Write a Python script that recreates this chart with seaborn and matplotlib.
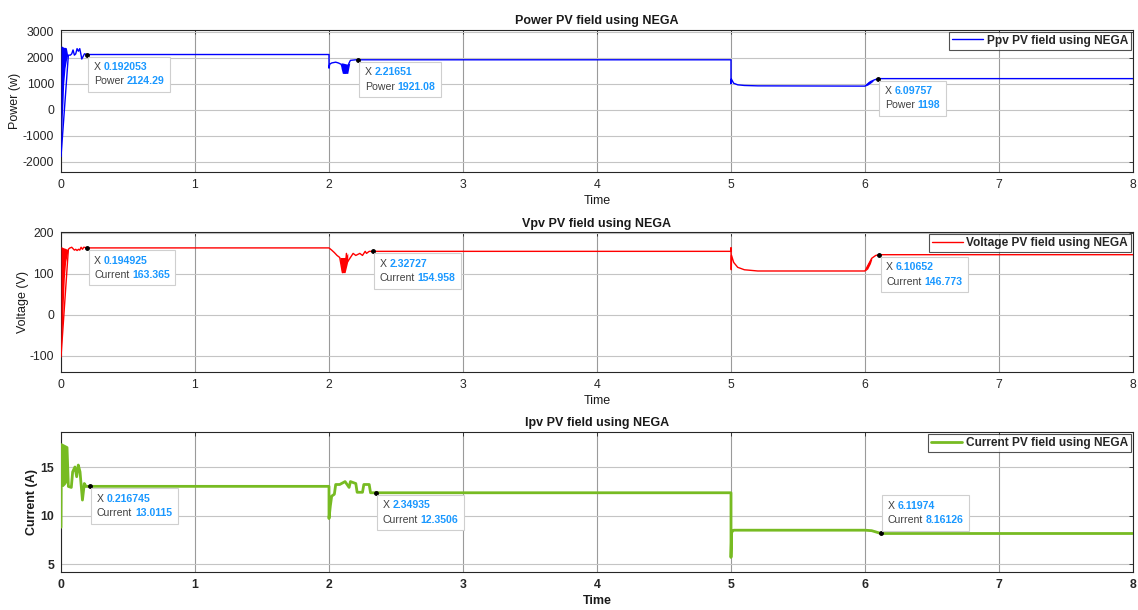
import numpy as np
import pandas as pd
import seaborn as sns
import matplotlib
matplotlib.use("Agg")
import matplotlib.pyplot as plt
from matplotlib.offsetbox import TextArea, HPacker, VPacker, AnnotationBbox

# ====================== DATA ==============

# PV power (W)
p_time = [0, 0.055, 0.07, 0.08, 0.09, 0.095, 0.1, 0.11, 0.12, 0.13, 0.14, 0.15, 0.155,
          0.165, 0.175, 0.192, 2.0, 2.0, 2.005, 2.02, 2.05, 2.07, 2.09, 2.12, 2.15, 2.16,
          2.2, 2.217, 5.0, 5.0, 5.003, 5.02, 5.05, 5.1, 5.2, 6.0, 6.04, 6.07, 6.098, 8.0]
p_val = [-1800, 2100, 2100, 2150, 2300, 2200, 2100, 2150, 2350, 2250, 2350, 2100, 1950,
         2050, 2150, 2124, 2124, 1600, 1750, 1800, 1830, 1800, 1750, 1400, 1800, 1900,
         1921, 1921, 1921, 1000, 1180, 1020, 960, 935, 920, 910, 1080, 1150, 1198, 1198]
# dense switching ripple, drawn as filled envelopes (one entry per burst)
p_bands = [
    ([0, 0.005, 0.01, 0.015, 0.02, 0.03, 0.04, 0.05],
     [-1800, -900, -200, 300, 1000, 1600, 1900, 2100],
     [2450, 2450, 2430, 2420, 2400, 2400, 2380, 2100]),
    ([2.09, 2.1, 2.14, 2.155],
     [1600, 1400, 1400, 1800],
     [1800, 1800, 1750, 1800]),
    ([6.0, 6.02, 6.04, 6.06],
     [910, 950, 1020, 1100],
     [910, 1060, 1110, 1140]),
]
p_tips = [(0.192053, 2124.29), (2.21651, 1921.08), (6.09757, 1198)]

# PV voltage (V)
v_time = [0, 0.055, 0.065, 0.08, 0.1, 0.11, 0.12, 0.13, 0.14, 0.15, 0.16, 0.17, 0.195,
          2.0, 2.02, 2.04, 2.06, 2.08, 2.1, 2.12, 2.13, 2.14, 2.16, 2.18, 2.2, 2.23,
          2.25, 2.27, 2.28, 2.3, 2.327, 5.0, 5.0, 5.002, 5.004, 5.02, 5.05, 5.1, 5.2,
          6.0, 6.05, 6.08, 6.107, 8.0]
v_val = [-103, 160, 163, 165, 158, 160, 157, 160, 158, 165, 160, 165, 163.4,
         163.4, 158, 152, 145, 140, 103, 110, 150, 130, 140, 150, 145, 150,
         145, 155, 150, 155, 155, 155, 164, 110, 145, 128, 116, 110, 107,
         107, 138, 145, 146.8, 146.8]
v_bands = [
    ([0, 0.005, 0.01, 0.017, 0.025, 0.035, 0.045, 0.055],
     [-103, -60, -30, 30, 90, 130, 145, 160],
     [167, 166, 165, 164, 163, 162, 160, 160]),
    ([2.08, 2.095, 2.12, 2.14],
     [140, 103, 103, 130],
     [140, 140, 140, 150]),
    ([6.0, 6.02, 6.04, 6.05],
     [107, 112, 125, 135],
     [107, 125, 135, 138]),
]
v_tips = [(0.194925, 163.365), (2.32727, 154.958), (6.10652, 146.773)]

# PV current (A)
i_time = [0, 0.003, 0.045, 0.055, 0.077, 0.087, 0.104, 0.117, 0.129, 0.142, 0.16, 0.174,
          0.187, 0.217, 2.0, 2.0, 2.01, 2.02, 2.04, 2.05, 2.08, 2.12, 2.15, 2.16, 2.2,
          2.21, 2.25, 2.26, 2.3, 2.31, 2.349, 5.0, 5.0, 5.005, 5.02, 6.0, 6.05, 6.12, 8.0]
i_val = [8.8, 17.3, 17.0, 13.0, 12.9, 14.5, 15.0, 14.0, 15.2, 14.5, 11.6, 13.3,
         13.0, 13.01, 13.01, 9.7, 11.0, 12.0, 12.2, 13.2, 13.2, 13.5, 12.9, 13.5, 13.3,
         12.4, 12.4, 13.2, 13.2, 12.35, 12.35, 12.35, 5.7, 8.3, 8.5, 8.5, 8.45, 8.16, 8.16]
i_bands = [
    ([0.003, 0.015, 0.03, 0.045],
     [13.0, 13.0, 13.2, 13.5],
     [17.3, 17.2, 17.1, 17.0]),
]
i_tips = [(0.216745, 13.0115), (2.34935, 12.3506), (6.11974, 8.16126)]

# ====================== STYLE ==============

sns.set_theme(style="white")
plt.rcParams["font.family"] = ["Liberation Sans", "DejaVu Sans"]
plt.rcParams["axes.edgecolor"] = "#262626"
plt.rcParams["axes.linewidth"] = 0.8
plt.rcParams["axes.unicode_minus"] = False

tip_label = "#404040"
tip_value = "#1a98ff"

fig = plt.figure(figsize=(11.38, 6.10), dpi=100)
ax1 = fig.add_axes([0.0536, 0.718, 0.942, 0.233])
ax2 = fig.add_axes([0.0536, 0.390, 0.942, 0.2295])
ax3 = fig.add_axes([0.0536, 0.0623, 0.942, 0.2295])


def datatip(ax, x, y, name, above=False):
    ax.plot([x], [y], "o", ms=2.5, color="black", zorder=6)
    rows = []
    for lab, val in (("X", f"{x:g}"), (name, f"{y:g}")):
        rows.append(HPacker(children=[
            TextArea(lab, textprops=dict(color=tip_label, fontsize=7.6)),
            TextArea(val, textprops=dict(color=tip_value, fontsize=7.6, fontweight="bold")),
        ], align="baseline", pad=0, sep=2))
    box = VPacker(children=rows, align="left", pad=0, sep=3)
    # frame pad is 0.4 * 10pt = 4pt outside the text block
    if above:
        xybox, align = (5, 6), (0, 0)
    else:
        xybox, align = (5, -5.5), (0, 1)
    ab = AnnotationBbox(box, (x, y), xybox=xybox, boxcoords="offset points",
                        box_alignment=align, frameon=True, pad=0.4, fontsize=10,
                        zorder=7, bboxprops=dict(ec="#cfcfcf", fc="white", lw=0.8))
    ax.add_artist(ab)


def panel(ax, t, v, bands, color, lw, label, title, ylabel, ylim, yticks,
          tips, tipname, bold=False):
    wt = "bold" if bold else "normal"
    sns.lineplot(x=t, y=v, ax=ax, color=color, lw=lw, estimator=None, sort=False,
                 label=label, zorder=4)
    for bt, blo, bhi in bands:
        ax.fill_between(bt, blo, bhi, color=color, lw=0, zorder=4)
    ax.set_xlim(0, 8)
    ax.set_ylim(*ylim)
    ax.set_xticks(range(9))
    ax.set_yticks(yticks)
    ax.grid(True, axis="x", color="#9a9a9a", lw=0.8)
    ax.grid(True, axis="y", color="#c4c4c4", lw=0.8)
    ax.set_axisbelow(True)
    ax.tick_params(direction="in", length=3, width=0.6, top=True, right=True,
                   labelsize=8.8, colors="#262626", pad=5)
    for lbl in ax.get_xticklabels() + ax.get_yticklabels():
        lbl.set_fontweight(wt)
    ax.set_title(title, fontsize=9, fontweight="bold", pad=4, color="#1a1a1a")
    ax.set_xlabel("Time", fontsize=9, fontweight=wt, labelpad=3, color="#1a1a1a")
    ax.set_ylabel(ylabel, fontsize=9, fontweight=wt, labelpad=2, color="#1a1a1a")
    leg = ax.legend(loc="upper right", frameon=True, fancybox=False,
                    borderaxespad=0.15, handlelength=2.6, borderpad=0.25,
                    handletextpad=0.3, prop=dict(weight="bold", size=8.6))
    leg.get_frame().set_edgecolor("#262626")
    leg.get_frame().set_linewidth(0.8)
    for k, (x, y) in enumerate(tips):
        datatip(ax, x, y, tipname, above=(k == 2 and bold))


panel(ax1, p_time, p_val, p_bands, "#0000ff", 1.0,
      "Ppv PV field using NEGA", "Power PV field using NEGA", "Power (w)",
      (-2390, 3070), range(-2000, 3001, 1000), p_tips, "Power")
panel(ax2, v_time, v_val, v_bands, "#ff0000", 1.0,
      "Voltage PV field using NEGA", "Vpv PV field using NEGA", "Voltage (V)",
      (-140, 202), [-100, 0, 100, 200], v_tips, "Current")
panel(ax3, i_time, i_val, i_bands, "#77bb22", 2.0,
      "Current PV field using NEGA", "Ipv PV field using NEGA", "Current (A)",
      (4.2, 18.6), [5, 10, 15], i_tips, "Current", bold=True)

ax1.yaxis.set_label_coords(-0.037, 0.5)
ax2.yaxis.set_label_coords(-0.030, 0.5)
ax3.yaxis.set_label_coords(-0.021, 0.5)

fig.savefig("out.png", dpi=100)
